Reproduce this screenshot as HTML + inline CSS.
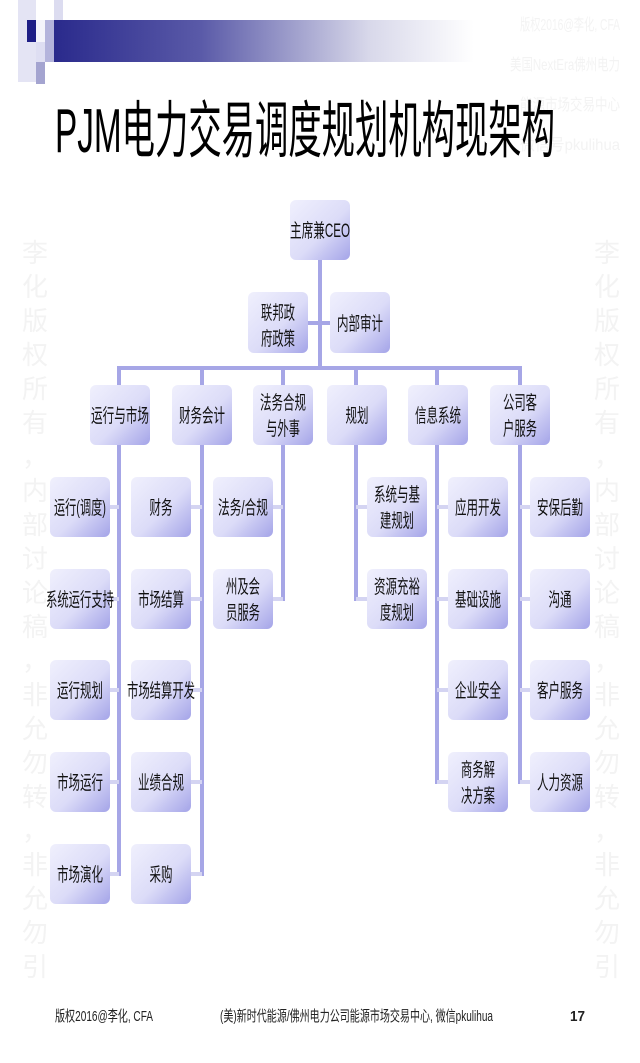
<!DOCTYPE html>
<html><head><meta charset="utf-8"><style>
html,body{margin:0;padding:0;background:#fff;}
body{width:640px;height:1058px;overflow:hidden;}
svg text{font-family:"Liberation Sans","Noto Sans CJK SC",sans-serif;}
</style></head><body>
<svg width="640" height="1058" viewBox="0 0 640 1058" xmlns="http://www.w3.org/2000/svg">
<defs>
<linearGradient id="bar" x1="0" y1="0" x2="1" y2="0">
<stop offset="0" stop-color="#2a2a8c"/><stop offset="0.35" stop-color="#5a5aa8"/><stop offset="0.75" stop-color="#d8d8ea"/><stop offset="1" stop-color="#ffffff"/>
</linearGradient>
<linearGradient id="box" x1="0" y1="0" x2="1" y2="1">
<stop offset="0" stop-color="#f0f0fd"/><stop offset="0.55" stop-color="#dcdcf8"/><stop offset="1" stop-color="#a4a4e8"/>
</linearGradient>
</defs>
<rect x="18" y="0" width="18" height="82" fill="#e4e4f4"/>
<rect x="54" y="0" width="9" height="20" fill="#dcdcf0"/>
<rect x="54" y="20" width="420" height="42" fill="url(#bar)"/>
<rect x="27" y="20" width="9" height="22" fill="#1e1e86"/>
<rect x="36" y="20" width="9" height="22" fill="#f4f4fb"/>
<rect x="45" y="20" width="9" height="42" fill="#b4b4dc"/>
<rect x="36" y="42" width="9" height="20" fill="#dedef2"/>
<rect x="36" y="62" width="9" height="22" fill="#a4a4d0"/>
<g fill="#f3f3f3">
<text x="520" y="30" font-size="16" textLength="100" lengthAdjust="spacingAndGlyphs">版权2016@李化, CFA</text>
<text x="510" y="70" font-size="16" textLength="110" lengthAdjust="spacingAndGlyphs">美国NextEra佛州电力</text>
<text x="520" y="110" font-size="16" textLength="100" lengthAdjust="spacingAndGlyphs">能源市场交易中心</text>
<text x="520" y="150" font-size="16" textLength="100" lengthAdjust="spacingAndGlyphs">微信号pkulihua</text>
</g>
<g fill="#f3f3f3" font-size="26" text-anchor="middle">
<text x="35" y="262">李</text><text x="35" y="296">化</text><text x="35" y="330">版</text><text x="35" y="364">权</text><text x="35" y="398">所</text><text x="35" y="432">有</text><text x="35" y="466">，</text><text x="35" y="500">内</text><text x="35" y="534">部</text><text x="35" y="568">讨</text><text x="35" y="602">论</text><text x="35" y="636">稿</text><text x="35" y="670">，</text><text x="35" y="704">非</text><text x="35" y="738">允</text><text x="35" y="772">勿</text><text x="35" y="806">转</text><text x="35" y="840">，</text><text x="35" y="874">非</text><text x="35" y="908">允</text><text x="35" y="942">勿</text><text x="35" y="976">引</text>
<text x="607" y="262">李</text><text x="607" y="296">化</text><text x="607" y="330">版</text><text x="607" y="364">权</text><text x="607" y="398">所</text><text x="607" y="432">有</text><text x="607" y="466">，</text><text x="607" y="500">内</text><text x="607" y="534">部</text><text x="607" y="568">讨</text><text x="607" y="602">论</text><text x="607" y="636">稿</text><text x="607" y="670">，</text><text x="607" y="704">非</text><text x="607" y="738">允</text><text x="607" y="772">勿</text><text x="607" y="806">转</text><text x="607" y="840">，</text><text x="607" y="874">非</text><text x="607" y="908">允</text><text x="607" y="942">勿</text><text x="607" y="976">引</text>
</g>
<text x="55" y="152" font-size="62" fill="#000" textLength="500" lengthAdjust="spacingAndGlyphs">PJM电力交易调度规划机构现架构</text>
<g stroke="#a6a6e6" stroke-width="4" fill="none">
<line x1="320" y1="258" x2="320" y2="370"/>
<line x1="306" y1="323" x2="332" y2="323"/>
<line x1="117" y1="368" x2="522" y2="368"/>
<line x1="119" y1="366" x2="119" y2="876"/>
<line x1="202" y1="366" x2="202" y2="876"/>
<line x1="283" y1="366" x2="283" y2="601"/>
<line x1="356" y1="366" x2="356" y2="601"/>
<line x1="437" y1="366" x2="437" y2="784"/>
<line x1="520" y1="366" x2="520" y2="784"/>
</g>
<g stroke="#d4d4f2" stroke-width="4">
<line x1="108" y1="507" x2="119" y2="507"/><line x1="108" y1="599" x2="119" y2="599"/><line x1="108" y1="690" x2="119" y2="690"/><line x1="108" y1="782" x2="119" y2="782"/><line x1="108" y1="874" x2="119" y2="874"/>
<line x1="190" y1="507" x2="202" y2="507"/><line x1="190" y1="599" x2="202" y2="599"/><line x1="190" y1="690" x2="202" y2="690"/><line x1="190" y1="782" x2="202" y2="782"/><line x1="190" y1="874" x2="202" y2="874"/>
<line x1="272" y1="507" x2="283" y2="507"/><line x1="272" y1="599" x2="283" y2="599"/>
<line x1="356" y1="507" x2="368" y2="507"/><line x1="356" y1="599" x2="368" y2="599"/>
<line x1="437" y1="507" x2="449" y2="507"/><line x1="437" y1="599" x2="449" y2="599"/><line x1="437" y1="690" x2="449" y2="690"/><line x1="437" y1="782" x2="449" y2="782"/>
<line x1="520" y1="507" x2="531" y2="507"/><line x1="520" y1="599" x2="531" y2="599"/><line x1="520" y1="690" x2="531" y2="690"/><line x1="520" y1="782" x2="531" y2="782"/>
</g>
<g fill="url(#box)">
<rect x="290" y="200" width="60" height="60" rx="6"/>
<rect x="248" y="292" width="60" height="61" rx="6"/>
<rect x="330" y="292" width="60" height="61" rx="6"/>
<rect x="90" y="385" width="60" height="60" rx="6"/>
<rect x="172" y="385" width="60" height="60" rx="6"/>
<rect x="253" y="385" width="60" height="60" rx="6"/>
<rect x="327" y="385" width="60" height="60" rx="6"/>
<rect x="408" y="385" width="60" height="60" rx="6"/>
<rect x="490" y="385" width="60" height="60" rx="6"/>
<rect x="50" y="477" width="60" height="60" rx="6"/><rect x="50" y="569" width="60" height="60" rx="6"/><rect x="50" y="660" width="60" height="60" rx="6"/><rect x="50" y="752" width="60" height="60" rx="6"/><rect x="50" y="844" width="60" height="60" rx="6"/>
<rect x="131" y="477" width="60" height="60" rx="6"/><rect x="131" y="569" width="60" height="60" rx="6"/><rect x="131" y="660" width="60" height="60" rx="6"/><rect x="131" y="752" width="60" height="60" rx="6"/><rect x="131" y="844" width="60" height="60" rx="6"/>
<rect x="213" y="477" width="60" height="60" rx="6"/><rect x="213" y="569" width="60" height="60" rx="6"/>
<rect x="367" y="477" width="60" height="60" rx="6"/><rect x="367" y="569" width="60" height="60" rx="6"/>
<rect x="448" y="477" width="60" height="60" rx="6"/><rect x="448" y="569" width="60" height="60" rx="6"/><rect x="448" y="660" width="60" height="60" rx="6"/><rect x="448" y="752" width="60" height="60" rx="6"/>
<rect x="530" y="477" width="60" height="60" rx="6"/><rect x="530" y="569" width="60" height="60" rx="6"/><rect x="530" y="660" width="60" height="60" rx="6"/><rect x="530" y="752" width="60" height="60" rx="6"/>
</g>
<g font-size="19" fill="#111" text-anchor="middle">
<text x="320" y="237" textLength="60" lengthAdjust="spacingAndGlyphs">主席兼CEO</text>
<text x="278" y="319" textLength="34" lengthAdjust="spacingAndGlyphs">联邦政</text><text x="278" y="345" textLength="34" lengthAdjust="spacingAndGlyphs">府政策</text>
<text x="360" y="330" textLength="46" lengthAdjust="spacingAndGlyphs">内部审计</text>
<text x="120" y="422" textLength="58" lengthAdjust="spacingAndGlyphs">运行与市场</text>
<text x="202" y="422" textLength="46" lengthAdjust="spacingAndGlyphs">财务会计</text>
<text x="283" y="409" textLength="46" lengthAdjust="spacingAndGlyphs">法务合规</text><text x="283" y="435" textLength="34" lengthAdjust="spacingAndGlyphs">与外事</text>
<text x="357" y="422" textLength="23" lengthAdjust="spacingAndGlyphs">规划</text>
<text x="438" y="422" textLength="46" lengthAdjust="spacingAndGlyphs">信息系统</text>
<text x="520" y="409" textLength="34" lengthAdjust="spacingAndGlyphs">公司客</text><text x="520" y="435" textLength="34" lengthAdjust="spacingAndGlyphs">户服务</text>

<text x="80" y="514" textLength="52" lengthAdjust="spacingAndGlyphs">运行(调度)</text>
<text x="80" y="606" textLength="68" lengthAdjust="spacingAndGlyphs">系统运行支持</text>
<text x="80" y="697" textLength="46" lengthAdjust="spacingAndGlyphs">运行规划</text>
<text x="80" y="789" textLength="46" lengthAdjust="spacingAndGlyphs">市场运行</text>
<text x="80" y="881" textLength="46" lengthAdjust="spacingAndGlyphs">市场演化</text>

<text x="161" y="514" textLength="23" lengthAdjust="spacingAndGlyphs">财务</text>
<text x="161" y="606" textLength="46" lengthAdjust="spacingAndGlyphs">市场结算</text>
<text x="161" y="697" textLength="68" lengthAdjust="spacingAndGlyphs">市场结算开发</text>
<text x="161" y="789" textLength="46" lengthAdjust="spacingAndGlyphs">业绩合规</text>
<text x="161" y="881" textLength="23" lengthAdjust="spacingAndGlyphs">采购</text>

<text x="243" y="514" textLength="50" lengthAdjust="spacingAndGlyphs">法务/合规</text>
<text x="243" y="593" textLength="34" lengthAdjust="spacingAndGlyphs">州及会</text><text x="243" y="619" textLength="34" lengthAdjust="spacingAndGlyphs">员服务</text>

<text x="397" y="501" textLength="46" lengthAdjust="spacingAndGlyphs">系统与基</text><text x="397" y="527" textLength="34" lengthAdjust="spacingAndGlyphs">建规划</text>
<text x="397" y="593" textLength="46" lengthAdjust="spacingAndGlyphs">资源充裕</text><text x="397" y="619" textLength="34" lengthAdjust="spacingAndGlyphs">度规划</text>

<text x="478" y="514" textLength="46" lengthAdjust="spacingAndGlyphs">应用开发</text>
<text x="478" y="606" textLength="46" lengthAdjust="spacingAndGlyphs">基础设施</text>
<text x="478" y="697" textLength="46" lengthAdjust="spacingAndGlyphs">企业安全</text>
<text x="478" y="776" textLength="34" lengthAdjust="spacingAndGlyphs">商务解</text><text x="478" y="802" textLength="34" lengthAdjust="spacingAndGlyphs">决方案</text>

<text x="560" y="514" textLength="46" lengthAdjust="spacingAndGlyphs">安保后勤</text>
<text x="560" y="606" textLength="23" lengthAdjust="spacingAndGlyphs">沟通</text>
<text x="560" y="697" textLength="46" lengthAdjust="spacingAndGlyphs">客户服务</text>
<text x="560" y="789" textLength="46" lengthAdjust="spacingAndGlyphs">人力资源</text>
</g>
<g font-size="15" fill="#222">
<text x="55" y="1021" textLength="98" lengthAdjust="spacingAndGlyphs">版权2016@李化, CFA</text>
<text x="220" y="1021" textLength="273" lengthAdjust="spacingAndGlyphs">(美)新时代能源/佛州电力公司能源市场交易中心, 微信pkulihua</text>
<text x="570" y="1021" font-weight="bold" textLength="15" lengthAdjust="spacingAndGlyphs">17</text>
</g>
</svg>
</body></html>
